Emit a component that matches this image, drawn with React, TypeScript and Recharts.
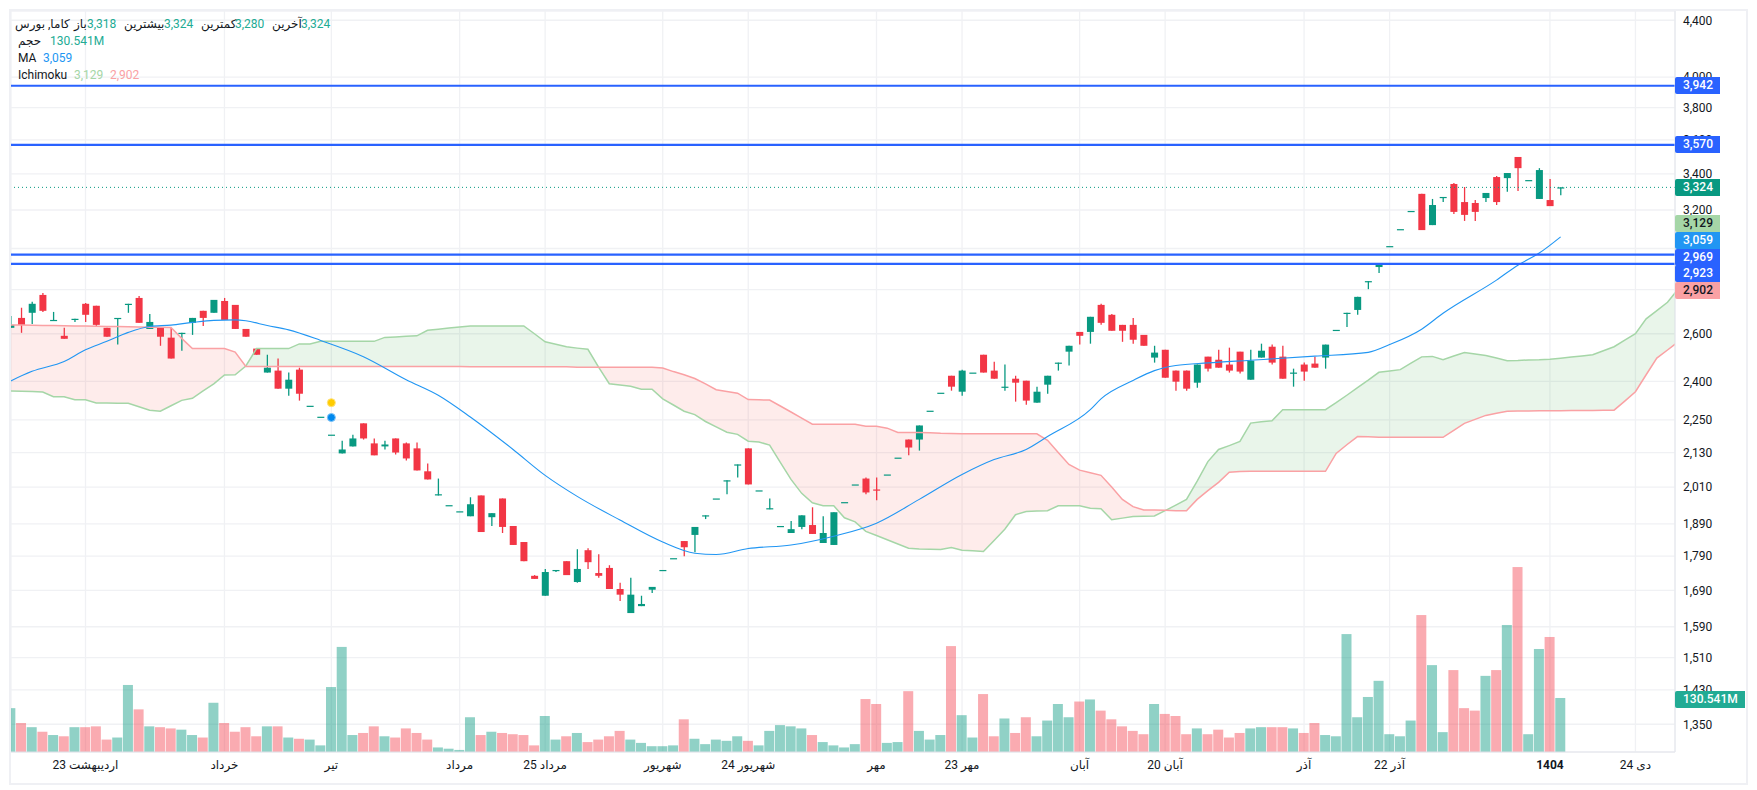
import React from "react";
import {
  ComposedChart, Bar, Line, Area, XAxis, YAxis, CartesianGrid, ReferenceLine, ReferenceDot,
} from "recharts";

const opens = [2626,2670,2693,2775,2657,2591,2661,2734,2725,2626,2666,2729,2761,2621,2626,2583,2600,2648,2702,2693,2747,2729,2621,2536,2436,2444,2371,2448,2304,2262,2195,2127,2152,2237,2163,2152,2181,2163,2145,2064,1982,1950,1930,1914,1982,1911,1972,1883,1833,1732,1675,1746,1775,1714,1808,1740,1755,1694,1627,1646,1692,1749,1784,1836,1855,1914,1972,2029,2085,2145,1999,1937,1883,1861,1880,1886,1830,1824,1960,2019,2039,2002,2053,2112,2177,2177,2285,2355,2423,2359,2436,2510,2444,2375,2411,2403,2316,2387,2473,2523,2608,2608,2729,2684,2639,2639,2595,2498,2531,2444,2444,2395,2502,2489,2469,2523,2407,2498,2544,2502,2432,2469,2473,2498,2617,2688,2706,2836,2908,3012,3099,3195,3288,3120,3265,3343,3243,3238,3265,3382,3376,3498,3365,3260,3254,3318];
const highs = [2679,2716,2743,2784,2697,2626,2666,2738,2725,2626,2670,2734,2770,2688,2626,2626,2604,2670,2702,2752,2761,2729,2621,2536,2510,2494,2436,2456,2304,2262,2195,2173,2195,2237,2181,2173,2181,2166,2166,2091,2039,1950,1930,1976,1982,1924,1972,1883,1833,1734,1752,1749,1775,1811,1814,1796,1763,1712,1726,1675,1700,1749,1784,1836,1880,1917,1972,2033,2088,2145,1999,1972,1883,1899,1917,1943,1914,1927,1960,2019,2043,2043,2053,2112,2177,2229,2285,2355,2423,2448,2436,2510,2481,2469,2423,2403,2379,2423,2477,2548,2608,2675,2734,2688,2639,2670,2595,2548,2531,2444,2444,2469,2502,2531,2540,2523,2531,2557,2553,2548,2452,2477,2502,2553,2617,2693,2766,2840,2927,3012,3099,3195,3288,3260,3271,3348,3326,3254,3293,3388,3405,3498,3365,3433,3371,3324];
const lows = [2626,2604,2643,2697,2657,2578,2652,2652,2634,2587,2553,2693,2648,2621,2548,2494,2527,2595,2634,2693,2661,2621,2587,2510,2436,2371,2343,2324,2304,2262,2195,2127,2152,2177,2120,2141,2123,2102,2067,2036,1982,1950,1930,1914,1864,1883,1861,1824,1775,1723,1675,1743,1734,1712,1752,1726,1694,1660,1627,1646,1683,1749,1784,1790,1802,1905,1972,1986,2043,2019,1999,1937,1883,1861,1873,1858,1830,1824,1960,2019,1986,1966,2053,2112,2120,2137,2285,2355,2363,2343,2436,2436,2411,2363,2320,2308,2316,2351,2444,2465,2553,2557,2639,2613,2565,2557,2548,2477,2415,2363,2363,2375,2440,2456,2436,2432,2407,2498,2469,2411,2379,2403,2456,2452,2617,2630,2684,2802,2879,3012,3099,3195,3094,3120,3243,3179,3142,3142,3243,3227,3299,3304,3365,3260,3221,3280];
const closes = [2639,2639,2734,2702,2661,2578,2666,2684,2639,2587,2670,2734,2648,2652,2587,2494,2604,2670,2670,2752,2661,2621,2587,2510,2456,2371,2407,2351,2304,2262,2195,2141,2181,2181,2120,2159,2130,2109,2067,2036,1986,1950,1930,1953,1864,1924,1880,1824,1775,1723,1743,1749,1734,1752,1772,1732,1694,1678,1678,1652,1700,1749,1784,1817,1880,1917,1972,2033,2088,2019,1999,1940,1883,1873,1917,1858,1861,1927,1960,2019,1992,1999,2053,2112,2148,2229,2285,2355,2379,2444,2436,2436,2411,2379,2395,2324,2359,2423,2477,2548,2591,2675,2648,2613,2613,2574,2548,2519,2415,2399,2371,2469,2452,2456,2444,2440,2485,2527,2477,2411,2436,2440,2456,2553,2617,2693,2766,2840,2927,3012,3099,3195,3094,3227,3271,3190,3174,3190,3293,3243,3405,3433,3365,3422,3221,3324];
const volumes = [106,70,60,49,41,38,60,60,62,30,35,162,103,62,60,57,54,41,35,119,70,49,60,38,62,62,35,32,30,16,157,254,41,46,62,38,35,57,46,30,11,8,5,84,41,49,46,43,41,16,87,30,38,46,24,30,38,51,30,22,14,14,16,79,32,19,30,27,38,27,16,51,65,62,57,41,24,16,11,19,128,116,22,24,147,51,30,41,256,89,35,140,38,81,46,84,38,76,116,84,122,127,100,79,62,51,43,116,92,87,43,57,43,54,35,46,57,60,60,60,57,46,70,41,38,285,84,133,172,43,38,76,331,210,48,198,106,100,184,198,307,447,43,249,278,130.541];

const maIndex = [0,2,5,7,9,11,13,15,17,19,21,22,24,26,29,33,37,40,43,47,50,53,57,61,64,66,69,73,77,81,85,89,92,95,97,101,102,105,107,109,112,116,122,127,129,132,134,139,141,143,145];
const maValues = [2402,2441,2482,2531,2567,2606,2632,2638,2650,2659,2661,2657,2636,2617,2571,2502,2407,2345,2261,2141,2050,1979,1902,1833,1799,1795,1813,1824,1851,1892,1969,2053,2105,2141,2188,2289,2331,2404,2444,2465,2476,2487,2504,2520,2553,2620,2691,2845,2917,2977,3059];

const spanA = [2362,2361,2360,2358,2339,2339,2327,2327,2315,2315,2314,2314,2300,2287,2283,2304,2325,2333,2362,2390,2426,2427,2463,2536,2536,2536,2536,2556,2556,2567,2567,2567,2567,2567,2567,2584,2586,2589,2591,2615,2620,2625,2630,2634,2634,2634,2634,2634,2634,2600,2565,2555,2544,2538,2533,2458,2391,2386,2381,2369,2369,2331,2307,2283,2270,2244,2224,2204,2196,2171,2168,2157,2095,2036,1989,1958,1948,1948,1909,1896,1866,1853,1840,1827,1814,1812,1811,1810,1816,1808,1806,1804,1838,1873,1919,1929,1931,1932,1948,1948,1948,1940,1938,1903,1908,1913,1914,1915,1932,1950,1969,2030,2098,2141,2155,2170,2238,2243,2247,2289,2289,2289,2289,2289,2316,2345,2375,2405,2437,2442,2448,2475,2501,2503,2489,2505,2519,2513,2507,2496,2485,2486,2488,2489,2491,2495,2500,2505,2510,2527,2544,2572,2600,2666,2703,2741,2803];
const spanB = [2638,2638,2637,2636,2636,2635,2634,2634,2633,2632,2632,2631,2630,2629,2628,2627,2580,2536,2536,2536,2536,2521,2461,2461,2461,2461,2461,2461,2461,2461,2461,2461,2461,2461,2461,2461,2461,2461,2461,2461,2461,2461,2461,2460,2460,2460,2460,2460,2460,2460,2460,2460,2460,2458,2458,2458,2458,2458,2458,2458,2458,2455,2440,2427,2412,2390,2367,2360,2353,2328,2327,2326,2303,2280,2257,2234,2234,2234,2234,2234,2226,2226,2219,2203,2203,2203,2202,2200,2199,2198,2198,2198,2198,2198,2198,2198,2198,2174,2130,2088,2068,2059,2050,2010,1969,1945,1934,1934,1933,1932,1932,1969,1998,2026,2061,2063,2064,2064,2064,2064,2064,2064,2064,2064,2127,2158,2188,2187,2185,2185,2185,2185,2185,2185,2185,2211,2237,2252,2267,2275,2283,2284,2284,2285,2285,2285,2286,2286,2286,2287,2287,2322,2359,2427,2496,2530,2565];

const priceTicks = [4400,4000,3800,3600,3400,3200,3000,2800,2600,2400,2250,2130,2010,1890,1790,1690,1590,1510,1430,1350];
const coveredTicks = [3000,2800];
const xTickIndex = [7,20,30,42,50,61,69,81,89,100,108,121,129,144,152];
const xTickLabels = ["23 اردیبهشت","خرداد","تیر","مرداد","25 مرداد","شهریور","24 شهریور","مهر","23 مهر","آبان","20 آبان","آذر","22 آذر","1404","24 دی"];
const levelLines = [3942,3570,2969,2923];
const lastPrice = 3324;

const tagTexts = ["3,942","3,570","3,324","3,129","3,059","2,969","2,923","2,902","130.541M"];
const tagBackgrounds = ["#2962FF","#2962FF","#089981","#A5D6A7","#2196F3","#2962FF","#2962FF","#FAA1A4","#22AB94"];
const tagInk = ["#fff","#fff","#fff","#131722","#fff","#fff","#fff","#131722","#fff"];
const tagCenters = [85,144.5,187,223,240,257,273.7,290.5,699];

const UP = "#089981";
const DOWN = "#F23645";
const UP_VOL = "rgba(8,153,129,0.45)";
const DOWN_VOL = "rgba(242,54,69,0.42)";

const maLookup = new Map(maIndex.map((k, n) => [k, maValues[n]]));

const rows = spanA.map((a, i) => {
  const b = spanB[i];
  const top = Math.max(a, b);
  const has = i < opens.length;
  return {
    i,
    range: has ? [lows[i], highs[i]] : null,
    open: has ? opens[i] : null,
    close: has ? closes[i] : null,
    high: has ? highs[i] : null,
    low: has ? lows[i] : null,
    vol: has ? volumes[i] : null,
    ma: maLookup.has(i) ? maLookup.get(i) : null,
    a, b,
    greenBand: [b, top],
    redBand: [a, top],
  };
});

const Candle = (props: any) => {
  const { x, y, width, height, payload } = props;
  if (!payload || payload.open == null || y == null) return null;
  const { open, close, high, low } = payload;
  const span = Math.log(high) - Math.log(low);
  const toY = (v: number) => (span > 0 ? y + ((Math.log(high) - Math.log(v)) / span) * height : y);
  const color = close >= open ? UP : DOWN;
  const top = toY(Math.max(open, close));
  const bottom = toY(Math.min(open, close));
  const cx = x + width / 2;
  return (
    <g>
      <line x1={cx} x2={cx} y1={y} y2={y + height} stroke={color} strokeWidth={1.3} />
      <rect x={x} y={top} width={width} height={Math.max(bottom - top, 1.2)} fill={color} />
    </g>
  );
};

const VolumeBar = (props: any) => {
  const { x, y, width, height, payload } = props;
  if (!payload || payload.vol == null) return null;
  return <rect x={x} y={y} width={width} height={height} fill={payload.close >= payload.open ? UP_VOL : DOWN_VOL} />;
};

const XTick = (props: any) => {
  const { x, y, payload } = props;
  const n = xTickIndex.indexOf(payload.value);
  const label = xTickLabels[n] ?? "";
  return (
    <text x={x} y={y + 5} textAnchor="middle" dominantBaseline="central" fontSize={12} direction="ltr"
      fontFamily="Roboto, 'DejaVu Sans', sans-serif" fill="#131722" fontWeight={label === "1404" ? 700 : 400}>
      {"\u200e" + label}
    </text>
  );
};

const headerStyle: React.CSSProperties = {
  position: "absolute", fontFamily: "Roboto, 'DejaVu Sans', sans-serif", fontSize: 12, lineHeight: "17px", whiteSpace: "nowrap",
};
const INK = "#131722";
const GAIN = "#22AB94";
const headerItems: [string, number, number, string][] = [
  ["کاما, بورس", 15, 15.5, INK], ["باز", 74, 15.5, INK], ["3,318", 87, 15.5, GAIN],
  ["بیشترین", 124, 15.5, INK], ["3,324", 164, 15.5, GAIN], ["کمترین", 201, 15.5, INK], ["3,280", 235, 15.5, GAIN],
  ["آخرین", 272, 15.5, INK], ["3,324", 301, 15.5, GAIN],
  ["حجم", 18, 32.5, INK], ["130.541M", 50, 32.5, GAIN],
  ["MA", 18, 49.5, INK], ["3,059", 43, 49.5, "#2196F3"],
  ["Ichimoku", 18, 66.5, INK], ["3,129", 74, 66.5, "#A5D6A7"], ["2,902", 110, 66.5, "#FAA1A4"],
];

const X_DOMAIN: [number, number] = [0.03, 155.7];

export default function App() {
  return (
    <div style={{ position: "absolute", left: 0, top: 0, width: 1757, height: 790, background: "#fff", overflow: "hidden" }}>
      <ComposedChart width={1757} height={790} data={rows} margin={{ top: 11, right: 0, bottom: 0, left: 11 }}>
        <CartesianGrid stroke="#F0F1F4" strokeWidth={1.3} />
        <XAxis dataKey="i" type="number" domain={X_DOMAIN} allowDataOverflow ticks={xTickIndex} interval={0}
          height={38} tickLine={false} axisLine={{ stroke: "#E4E6EC" }} tick={<XTick />} />
        <XAxis xAxisId="v" dataKey="i" type="number" domain={X_DOMAIN} allowDataOverflow hide />
        <YAxis orientation="right" type="number" scale="log" domain={[1288.6, 4469]} allowDataOverflow ticks={priceTicks}
          interval={0} width={82} tickLine={false} axisLine={{ stroke: "#E4E6EC" }}
          tickFormatter={(v: number) => (coveredTicks.includes(v) ? "" : v.toLocaleString("en-US"))}
          tick={{ fontSize: 12, fill: "#131722", fontFamily: "Roboto, sans-serif" }} />
        <YAxis yAxisId="v" type="number" domain={[0, 1791]} hide />

        <Bar xAxisId="v" yAxisId="v" dataKey="vol" barSize={10} shape={<VolumeBar />} isAnimationActive={false} />

        <Area dataKey="greenBand" stroke="none" fill="#4CAF50" fillOpacity={0.12} dot={false} activeDot={false} isAnimationActive={false} />
        <Area dataKey="redBand" stroke="none" fill="#F44336" fillOpacity={0.1} dot={false} activeDot={false} isAnimationActive={false} />
        <Line dataKey="a" stroke="#A5D6A7" strokeWidth={1.5} dot={false} activeDot={false} isAnimationActive={false} />
        <Line dataKey="b" stroke="#FAA1A4" strokeWidth={1.5} dot={false} activeDot={false} isAnimationActive={false} />
        <Line dataKey="ma" type="monotone" stroke="#2196F3" strokeWidth={1.1} dot={false} activeDot={false} connectNulls isAnimationActive={false} />

        {levelLines.map((v) => (
          <ReferenceLine key={v} y={v} stroke="#2962FF" strokeWidth={2.2} />
        ))}
        <ReferenceLine y={lastPrice} stroke={UP} strokeWidth={1} strokeDasharray="1 3" />

        <Bar dataKey="range" barSize={7} shape={<Candle />} isAnimationActive={false} />

        <ReferenceDot x={30} y={2316} r={4} fill="#FFCC00" stroke="#FFE27A" strokeWidth={1} />
        <ReferenceDot x={30} y={2259} r={4} fill="#0088EE" stroke="#7FC4F7" strokeWidth={1} />
      </ComposedChart>

      <div style={{ position: "absolute", left: 9, top: 9, width: 1735, height: 772, border: "2px solid #EFF0F4", pointerEvents: "none" }} />

      {headerItems.map(([t, left, top, color], n) => (
        <span key={n} style={{ ...headerStyle, left, top, color }}>{t}</span>
      ))}

      {tagTexts.map((t, n) => (
        <div key={n} style={{
          position: "absolute", left: 1675, top: tagCenters[n] - 8.5, height: 17, lineHeight: "17px",
          padding: "0 7px 0 8px", background: tagBackgrounds[n], color: tagInk[n], fontFamily: "Roboto, sans-serif",
          fontSize: 12, fontWeight: 500, borderRadius: "2px 0 0 2px",
        }}>{t}</div>
      ))}
    </div>
  );
}
